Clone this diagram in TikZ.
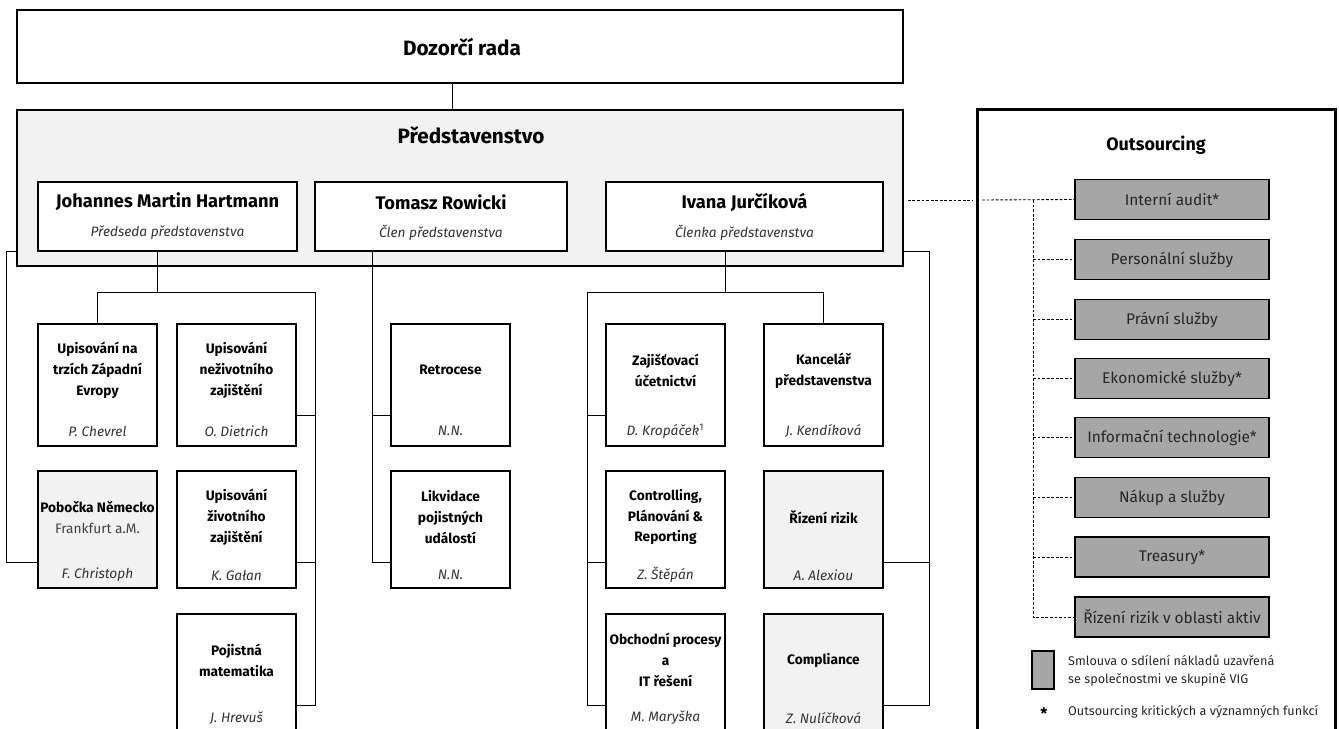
\documentclass[tikz,border=0pt]{standalone}
\usepackage{fontspec}
\setmainfont{Fira Sans}
\usetikzlibrary{calc}

\begin{document}
\begin{tikzpicture}[x=0.02cm,y=-0.02cm,
  orgbox/.style={shape=rectangle,draw,line width=1.1pt,fill=white,inner sep=0pt},
  unitbox/.style={orgbox,minimum width=2.38cm},
  outbox/.style={orgbox,fill=outgray,minimum width=3.88cm,minimum height=0.8cm,font=\fontsize{8.8}{10}\selectfont,text=black!85},
  ttl/.style={align=center,font=\fontsize{7.8}{11.9}\selectfont\bfseries},
  who/.style={font=\fontsize{7.8}{9}\selectfont\itshape,text=black!80},
  link/.style={line width=0.5pt},
  dotlink/.style={line width=0.5pt,dash pattern=on 1.6pt off 1pt}]
\definecolor{predgray}{RGB}{242,242,242}
\definecolor{outgray}{RGB}{166,166,166}

\useasboundingbox (0,0) rectangle (1339,729);
\clip (0,0) rectangle (1339,729);

% board
\node[orgbox,minimum width=17.72cm,minimum height=1.46cm] (dozor) at (460,46.5) {};
\node[font=\fontsize{11.8}{13}\selectfont\bfseries] (dozor-t) at (462,47) {Dozorčí rada};
\node[orgbox,fill=predgray,minimum width=17.72cm,minimum height=3.12cm] (pred) at (460,188) {};
\node[font=\fontsize{11.8}{13}\selectfont\bfseries] (pred-t) at (471,135) {Představenstvo};
\coordinate (dbus) at (452,0);
\draw[link] (dbus |- dozor.south) -- (dbus |- pred.north);

\node[orgbox,minimum width=5.18cm,minimum height=1.38cm] (hart) at (167.5,216.5) {};
\node[orgbox,minimum width=5.04cm,minimum height=1.38cm] (rowi) at (441,216.5) {};
\node[orgbox,minimum width=5.54cm,minimum height=1.38cm] (ivana) at (744.5,216.5) {};
\node[font=\fontsize{10.4}{12}\selectfont\bfseries] (hart-t) at (167.5,202) {Johannes Martin Hartmann};
\node[font=\fontsize{10.4}{12}\selectfont\bfseries] (rowi-t) at (441,202) {Tomasz Rowicki};
\node[font=\fontsize{10.4}{12}\selectfont\bfseries] (ivana-t) at (744.5,202) {Ivana Jurčíková};
\node[who] (hart-r) at (167.5,233) {Předseda představenstva};
\node[who] (rowi-r) at (441,233) {Člen představenstva};
\node[who] (ivana-r) at (744.5,233) {Členka představenstva};

% units
\node[unitbox,minimum height=2.44cm] (upz) at (97.5,385) {};
\node[unitbox,minimum height=2.44cm] (upn) at (236.5,385) {};
\node[unitbox,fill=predgray,minimum height=2.34cm] (pob) at (97.5,529.5) {};
\node[unitbox,minimum height=2.34cm] (upzi) at (236.5,529.5) {};
\node[unitbox,minimum height=2.56cm] (poj) at (236.5,678) {};
\node[unitbox,minimum height=2.44cm] (retro) at (450.5,385) {};
\node[unitbox,minimum height=2.34cm] (likv) at (450.5,529.5) {};
\node[unitbox,minimum height=2.44cm] (zaj) at (665.5,385) {};
\node[unitbox,minimum height=2.44cm] (kanc) at (823.5,385) {};
\node[unitbox,minimum height=2.34cm] (contr) at (665.5,529.5) {};
\node[unitbox,fill=predgray,minimum height=2.34cm] (riz) at (823.5,529.5) {};
\node[unitbox,minimum height=2.56cm] (obch) at (665.5,678) {};
\node[unitbox,fill=predgray,minimum height=2.56cm] (comp) at (823.5,678) {};

\node[ttl] (upz-t) at (97.5,370) {Upisování na\\trzích Západní\\Evropy};
\node[ttl] (upn-t) at (236.5,370) {Upisování\\neživotního\\zajištění};
\node[ttl] (pob-t) at (97.5,517.5) {Pobočka Německo\\{\mdseries\color{black!75}Frankfurt a.M.}};
\node[ttl] (upzi-t) at (236.5,517) {Upisování\\životního\\zajištění};
\node[ttl] (poj-t) at (236.5,660.5) {Pojistná\\matematika};
\node[ttl] (retro-t) at (450.5,370) {Retrocese};
\node[ttl] (likv-t) at (450.5,517) {Likvidace\\pojistných\\událostí};
\node[ttl] (zaj-t) at (665.5,370.5) {Zajišťovací\\účetnictví};
\node[ttl] (kanc-t) at (823.5,370.5) {Kancelář\\představenstva};
\node[ttl] (contr-t) at (665.5,517) {Controlling,\\Plánování \&\\Reporting};
\node[ttl] (riz-t) at (823.5,517) {Řízení rizik};
\node[ttl] (obch-t) at (665.5,660) {Obchodní procesy\\a\\IT řešení};
\node[ttl] (comp-t) at (823.5,660) {Compliance};

\node[who] (upz-n) at (97.5,431) {P. Chevrel};
\node[who] (upn-n) at (236.5,431) {O. Dietrich};
\node[who] (pob-n) at (97.5,575) {F. Christoph};
\node[who] (upzi-n) at (236.5,575) {K. Gałan};
\node[who] (poj-n) at (236.5,718) {J. Hrevuš};
\node[who] (retro-n) at (450.5,431) {N.N.};
\node[who] (likv-n) at (450.5,575) {N.N.};
\node[who] (zaj-n) at (665.5,431) {D. Kropáček{\upshape\textsuperscript{1}}};
\node[who] (kanc-n) at (823.5,431) {J. Kendíková};
\node[who] (contr-n) at (665.5,575) {Z. Štěpán};
\node[who] (riz-n) at (823.5,575) {A. Alexiou};
\node[who] (obch-n) at (665.5,718) {M. Maryška};
\node[who] (comp-n) at (823.5,718) {Z. Nulíčková};

% lines
\coordinate (rowA) at (0,415);
\coordinate (rowB) at (0,562);
\coordinate (rowC) at (0,705);
\coordinate (hbus) at (157,292);
\coordinate (hspine) at (315,292);
\coordinate (rbus) at (372,292);
\coordinate (ibus) at (725,292);
\coordinate (ispine) at (587,292);
\coordinate (lside) at (6,251);
\coordinate (rside) at (929,251);

\draw[link] (hbus |- hart.south) -- (hbus) -| (upz.north);
\draw[link] (hbus) -| (hspine |- rowC) -- (poj.east |- rowC);
\draw[link] (upn.east |- rowA) -- (hspine |- rowA);
\draw[link] (upzi.east |- rowB) -- (hspine |- rowB);

\draw[link] (pred.west |- lside) -- (lside) |- (pob.west |- rowB);

\draw[link] (rbus |- rowi.south) -- (rbus |- rowB) -- (likv.west |- rowB);
\draw[link] (rbus |- rowA) -- (retro.west |- rowA);

\draw[link] (ibus |- ivana.south) -- (ibus) -| (kanc.north);
\draw[link] (ibus) -| (ispine |- rowC) -- (obch.west |- rowC);
\draw[link] (zaj.west |- rowA) -- (ispine |- rowA);
\draw[link] (contr.west |- rowB) -- (ispine |- rowB);

\draw[link] (pred.east |- rside) -- (rside) |- (comp.east |- rowC);
\draw[link] (riz.east |- rowB) -- (rside |- rowB);

% outsourcing
\node[orgbox,line width=1.7pt,fill=none,minimum width=7.18cm,minimum height=12.72cm] (outs) at (1156.5,427) {};
\node[font=\fontsize{10.2}{12}\selectfont\bfseries] (outs-t) at (1156,145) {Outsourcing};
\node[outbox] (ia) at (1172,199.5) {Interní audit*};
\node[outbox] (ps) at (1172,259.5) {Personální služby};
\node[outbox] (pr) at (1172,319.5) {Právní služby};
\node[outbox] (ek) at (1172,378.5) {Ekonomické služby*};
\node[outbox] (it) at (1172,437.5) {Informační technologie*};
\node[outbox] (nk) at (1172,497.5) {Nákup a služby};
\node[outbox] (tr) at (1172,557) {Treasury*};
\node[outbox] (ra) at (1172,617) {Řízení rizik v oblasti aktiv};

\coordinate (gapL) at (972,200);
\coordinate (gapR) at (982,200);
\coordinate (ospine) at (1033,200);
\draw[dotlink] ([xshift=0.08cm]pred.east |- gapL) -- (gapL);
\draw[dotlink] (gapR) -- (ia.west);
\draw[dotlink] (ospine) -- (ospine |- ra.west) -- (ra.west);
\draw[dotlink] (ospine |- ps.west) -- (ps.west);
\draw[dotlink] (ospine |- pr.west) -- (pr.west);
\draw[dotlink] (ospine |- ek.west) -- (ek.west);
\draw[dotlink] (ospine |- it.west) -- (it.west);
\draw[dotlink] (ospine |- nk.west) -- (nk.west);
\draw[dotlink] (ospine |- tr.west) -- (tr.west);

% legend
\node[orgbox,fill=outgray,minimum width=0.44cm,minimum height=0.76cm] (leg) at (1043,670) {};
\node[anchor=west,align=left,font=\fontsize{7.2}{10.2}\selectfont,text=black!85] (leg-t) at (1062,671) {Smlouva o sdílení nákladů uzavřená\\se společnostmi ve skupině VIG};
\node[font=\fontsize{9}{10}\selectfont\bfseries] (star) at (1044,714) {*};
\node[anchor=west,font=\fontsize{7.2}{9}\selectfont,text=black!85] (star-t) at (1062,712) {Outsourcing kritických a významných funkcí};
\end{tikzpicture}
\end{document}
